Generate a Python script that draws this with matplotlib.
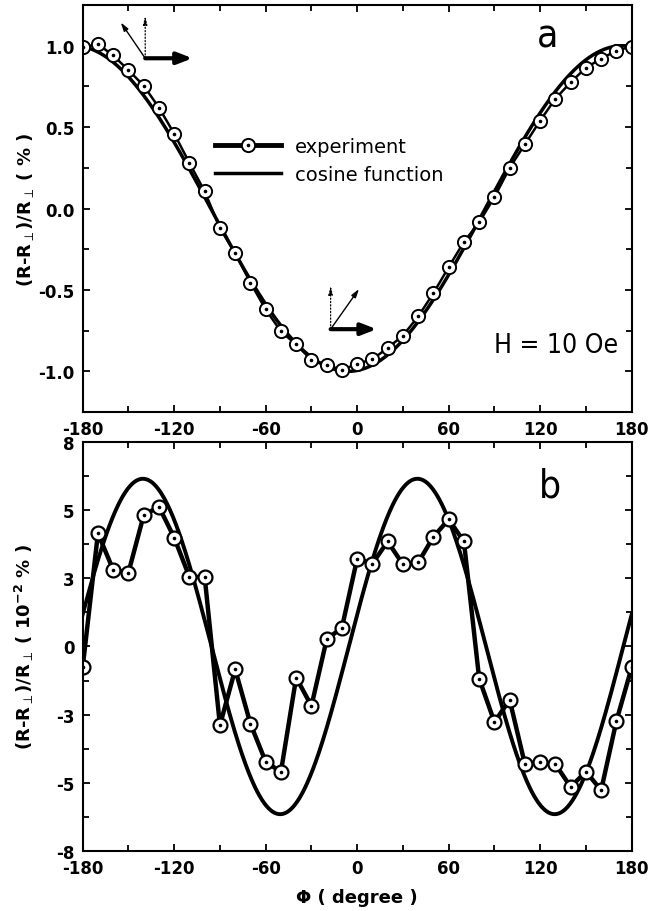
import numpy as np
import matplotlib
matplotlib.use('Agg')
import matplotlib.pyplot as plt
from matplotlib.legend_handler import HandlerTuple

# angles for the measured points (degree)
phi = list(range(-180, 190, 10))

# panel a: H = 10 Oe, (R-R_perp)/R_perp in %
exp_a = [0.99, 1.01, 0.94, 0.85, 0.755, 0.62, 0.46, 0.28, 0.105, -0.12,
         -0.275, -0.455, -0.62, -0.755, -0.835, -0.93, -0.962, -0.99, -0.955,
         -0.925, -0.857, -0.78, -0.663, -0.52, -0.36, -0.205, -0.085, 0.07,
         0.25, 0.395, 0.54, 0.675, 0.775, 0.865, 0.92, 0.97, 0.995]

# panel b: in units of 1e-2 %
exp_b = [-0.77, 4.15, 2.81, 2.71, 4.81, 5.13, 3.99, 2.55, 2.55, -2.89,
         -0.84, -2.83, -4.23, -4.6, -1.14, -2.18, 0.26, 0.69, 3.22,
         3.04, 3.85, 3.01, 3.08, 4.02, 4.66, 3.85, -1.18, -2.77,
         -1.96, -4.32, -4.23, -4.32, -5.15, -4.59, -5.27, -2.73, -0.77]

# cosine fit parameters
amp_a, period_a, phase_a = 1.0, 360.0, 174.0
amp_b, period_b, phase_b = 6.15, 180.0, 39.5

xticks = [-180, -120, -60, 0, 60, 120, 180]
yticks_a = [-1.0, -0.5, 0.0, 0.5, 1.0]
yticklabels_a = ['-1.0', '-0.5', '0.0', '0.5', '1.0']
yticks_b = [-7.5, -5, -2.5, 0, 2.5, 5, 7.5]
yticklabels_b = ['-8', '-5', '-3', '0', '3', '5', '8']

phi_fine = np.linspace(-180, 180, 721)
cos_a = amp_a * np.cos(2 * np.pi * (phi_fine - phase_a) / period_a)
cos_b = amp_b * np.cos(2 * np.pi * (phi_fine - phase_b) / period_b)

plt.rcParams['font.family'] = ['DejaVu Sans']
plt.rcParams['mathtext.default'] = 'bf'

fig = plt.figure(figsize=(6.49, 9.12), dpi=100)
ax1 = fig.add_axes([0.1274, 0.5471, 0.8459, 0.4463])
ax2 = fig.add_axes([0.1274, 0.0658, 0.8459, 0.4485])


def style(ax, yticks, ylabels):
    for s in ax.spines.values():
        s.set_linewidth(1.5)
    ax.tick_params(which='both', direction='in', top=True, right=True,
                   width=1.3, labelsize=12)
    ax.tick_params(which='major', length=5, pad=6)
    ax.tick_params(which='minor', length=4)
    ax.set_xlim(-180, 180)
    ax.set_xticks(xticks)
    ax.set_xticklabels([str(v) for v in xticks], fontweight='bold')
    ax.set_xticks([-150, -90, -30, 30, 90, 150], minor=True)
    ax.set_yticks(yticks)
    ax.set_yticklabels(ylabels, fontweight='bold')


narrow = dict(fontweight='normal', family='DejaVu Sans', fontstretch='condensed',
              ha='center', va='center')
perp = r'$_{\mathrm{\perp}}$'

# ---- panel a
style(ax1, yticks_a, yticklabels_a)
ax1.plot(phi_fine, cos_a, color='black', lw=2.5)
ax1.plot(phi, exp_a, color='black', lw=1.8, marker='o', ms=9.5,
         mfc='white', mec='black', mew=1.4)
ax1.plot(phi, exp_a, ls='none', marker='o', ms=1.6, color='black')
ax1.set_ylim(-1.25, 1.25)
ax1.set_yticks([-1.25, -0.75, -0.25, 0.25, 0.75, 1.25], minor=True)
ax1.set_ylabel('(R-R' + perp + ')/R' + perp + ' ( % )', fontsize=13,
               fontweight='bold')
ax1.yaxis.set_label_coords(-0.085, 0.5)

# legend handle: thick line + circle + centre dot
h_exp, = ax1.plot([], [], color='black', lw=3.5, marker='o', ms=9.5,
                  mfc='white', mec='black', mew=1.4)
h_dot, = ax1.plot([], [], ls='none', marker='o', ms=1.6, color='black')
h_cos, = ax1.plot([], [], color='black', lw=2.5)
ax1.legend([(h_exp, h_dot), h_cos], ['experiment', 'cosine function'],
           handler_map={tuple: HandlerTuple(ndivide=1)},
           loc='upper left', bbox_to_anchor=(0.241, 0.675), frameon=False,
           borderpad=0, borderaxespad=0, handlelength=3.4,
           handletextpad=0.7, labelspacing=0.45,
           prop={'size': 14, 'weight': 'normal'})

ax1.text(0.846, 0.925, 'a', transform=ax1.transAxes, fontsize=28, **narrow)
ax1.text(0.862, 0.165, 'H = 10 Oe', transform=ax1.transAxes, fontsize=19,
         **narrow)


# field / current arrows
def arrows(ax, o, bold_end, thin_end, dot_end):
    ax.annotate('', xy=bold_end, xytext=o,
                arrowprops=dict(arrowstyle='-|>,head_length=0.9,head_width=0.35',
                                lw=3, color='black', shrinkA=0, shrinkB=0))
    ax.annotate('', xy=thin_end, xytext=o,
                arrowprops=dict(arrowstyle='-|>,head_length=0.5,head_width=0.15',
                                lw=1, color='black', shrinkA=0, shrinkB=0))
    ax.annotate('', xy=dot_end, xytext=o,
                arrowprops=dict(arrowstyle='-|>,head_length=0.5,head_width=0.12',
                                lw=0.9, ls=':', color='black', shrinkA=0, shrinkB=0))


arrows(ax1, (-139, 0.923), (-108, 0.923), (-155, 1.143), (-139, 1.184))
arrows(ax1, (-17.4, -0.741), (12.8, -0.741), (1.2, -0.494), (-17.4, -0.473))

# ---- panel b
style(ax2, yticks_b, yticklabels_b)
ax2.plot(phi_fine, cos_b, color='black', lw=2.8)
ax2.plot(phi, exp_b, color='black', lw=3.2, marker='o', ms=10,
         mfc='white', mec='black', mew=1.6)
ax2.plot(phi, exp_b, ls='none', marker='o', ms=1.6, color='black')
ax2.set_ylim(-7.5, 7.5)
ax2.set_yticks([-6.25, -3.75, -1.25, 1.25, 3.75, 6.25], minor=True)
ax2.set_ylabel('(R-R' + perp + ')/R' + perp + r' ( 10$^{-2}$ % )', fontsize=13,
               fontweight='bold')
ax2.yaxis.set_label_coords(-0.085, 0.5)
ax2.set_xlabel('Φ ( degree )', fontsize=13, fontweight='bold', labelpad=8)
ax2.text(0.851, 0.893, 'b', transform=ax2.transAxes, fontsize=28, **narrow)

fig.savefig('out.png', dpi=100)
